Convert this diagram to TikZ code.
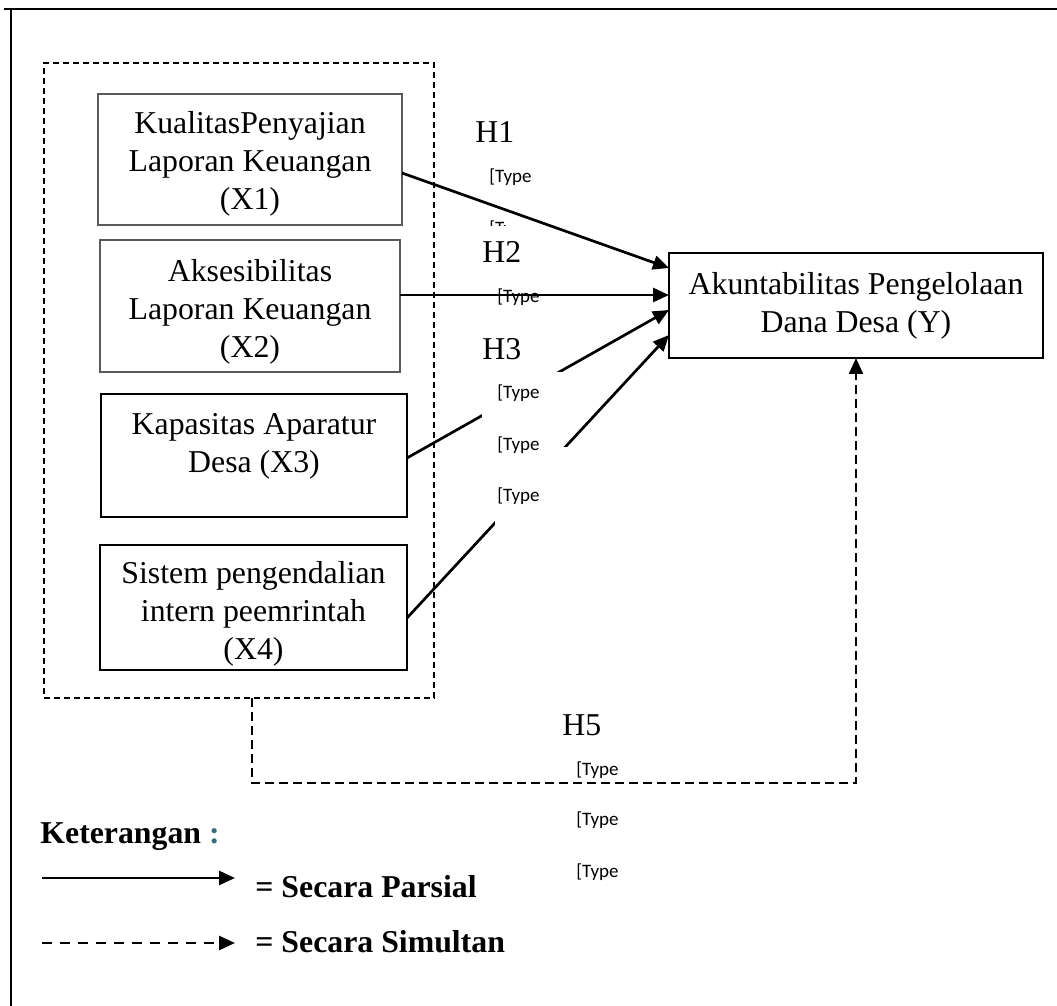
\documentclass[tikz,border=0pt]{standalone}
\usepackage{fontspec}
\setmainfont{Liberation Serif}
\newfontfamily\typefont{Carlito}
\usetikzlibrary{arrows.meta,calc}

\tikzset{
  varbox/.style={draw, align=center, inner sep=0pt, outer sep=0pt, line width=0.95pt,
    font=\fontsize{15.9pt}{19pt}\selectfont},
  thinbox/.style={varbox, draw=boxgray, line width=0.6pt},
  partial/.style={line width=1.35pt, -{Triangle[length=8pt,width=7pt]}},
  simultan/.style={line width=1.1pt, dash pattern=on 4.5pt off 2.5pt,
    -{Triangle[length=8pt,width=7pt]}},
  hlabel/.style={anchor=base west, inner sep=0pt, font=\fontsize{15.9pt}{19pt}\selectfont},
  typelabel/.style={anchor=base west, inner sep=0pt, font=\typefont\fontsize{9.5pt}{11pt}\selectfont},
  legendtext/.style={anchor=base west, inner sep=0pt, font=\bfseries\fontsize{15.9pt}{19pt}\selectfont}
}

\begin{document}
\begin{tikzpicture}[x=0.5pt, y=-0.5pt]
  \definecolor{boxgray}{RGB}{90,90,90}
  \definecolor{colonteal}{RGB}{49,110,128}
  \useasboundingbox (0,0) rectangle (1057,1006);

  % Frame
  \draw[line width=1.2pt] (4,9) -- (1057,9);
  \draw[line width=1pt] (11,8) -- (11,1006);

  % Independent variables inside the dashed group
  \node[draw, dash pattern=on 3pt off 2pt, line width=0.85pt, inner sep=0pt, outer sep=0pt,
    minimum width=195pt, minimum height=317.5pt] (grp) at (239,380.5) {};

  \node[thinbox, minimum width=152pt, minimum height=65.5pt, text height=53.5pt] (x1) at (250,159.5)
    {KualitasPenyajian\\Laporan Keuangan\\(X1)};
  \node[thinbox, minimum width=150pt, minimum height=66pt, text height=54.5pt] (x2) at (250,306)
    {Aksesibilitas\\Laporan Keuangan\\(X2)};
  \node[varbox, minimum width=153pt, minimum height=61.5pt, text depth=12.5pt] (x3) at (254,455.5)
    {Kapasitas Aparatur\\Desa (X3)};
  \node[varbox, minimum width=153.5pt, minimum height=62.5pt, text height=55pt] (x4) at (253.5,607.5)
    {Sistem pengendalian\\intern peemrintah\\(X4)};

  % Dependent variable
  \node[varbox, minimum width=187pt, minimum height=52.5pt] (dv) at (856,305.5)
    {Akuntabilitas Pengelolaan\\Dana Desa (Y)};

  % Partial effects
  \draw[partial] ($(x1.east)+(0,13.5)$) -- ($(dv.west)+(0,-37.5)$);
  \draw[partial] ($(x2.east)+(0,-11)$) -- ($(dv.west)+(0,-10.5)$);
  \draw[partial] ($(x3.east)+(0,2.5)$) -- ($(dv.west)+(0,4.5)$);
  \draw[partial] ($(x4.east)+(0,10.5)$) -- ($(dv.west)+(0,29.5)$);

  % Simultaneous effect
  \draw[simultan] ($(grp.south)+(13,0)$) -- ++(0,85) -| (dv.south);

  % Text boxes over the arrows
  \fill[white] (482,372) rectangle (565,420);
  \fill[white] (495,447) rectangle (568,526);

  \node[hlabel] (h1) at (475,143) {H1};
  \node[hlabel] (h2) at (482,263) {H2};
  \node[hlabel] (h3) at (482,360) {H3};
  \node[hlabel] (h5) at (562,735) {H5};

  \node[typelabel] (t1) at (489,183) {[Type};
  \begin{scope}
    \clip (480,215) rectangle (506,226);
    \node[typelabel] (t0) at (489,235) {[Type};
  \end{scope}
  \node[typelabel] (t2) at (497,303) {[Type};
  \node[typelabel] (t3) at (497,399) {[Type};
  \node[typelabel] (t4) at (497,451) {[Type};
  \node[typelabel] (t5) at (497,502) {[Type};
  \node[typelabel] (t6) at (576,775) {[Type};
  \node[typelabel] (t7) at (576,825) {[Type};
  \node[typelabel] (t8) at (576,877) {[Type};

  % Legend
  \node[legendtext] (ket) at (40,843) {Keterangan \textcolor{colonteal}{:}};
  \coordinate (ps) at (42,878);
  \coordinate (pe) at (235,878);
  \draw[partial] (ps) -- (pe);
  \node[legendtext] (lpar) at (255,897) {= Secara Parsial};
  \coordinate (ss) at (42,943);
  \coordinate (se) at (235,943);
  \draw[partial, dash pattern=on 5pt off 4pt] (ss) -- (se);
  \node[legendtext] (lsim) at (255,952) {= Secara Simultan};
\end{tikzpicture}
\end{document}
